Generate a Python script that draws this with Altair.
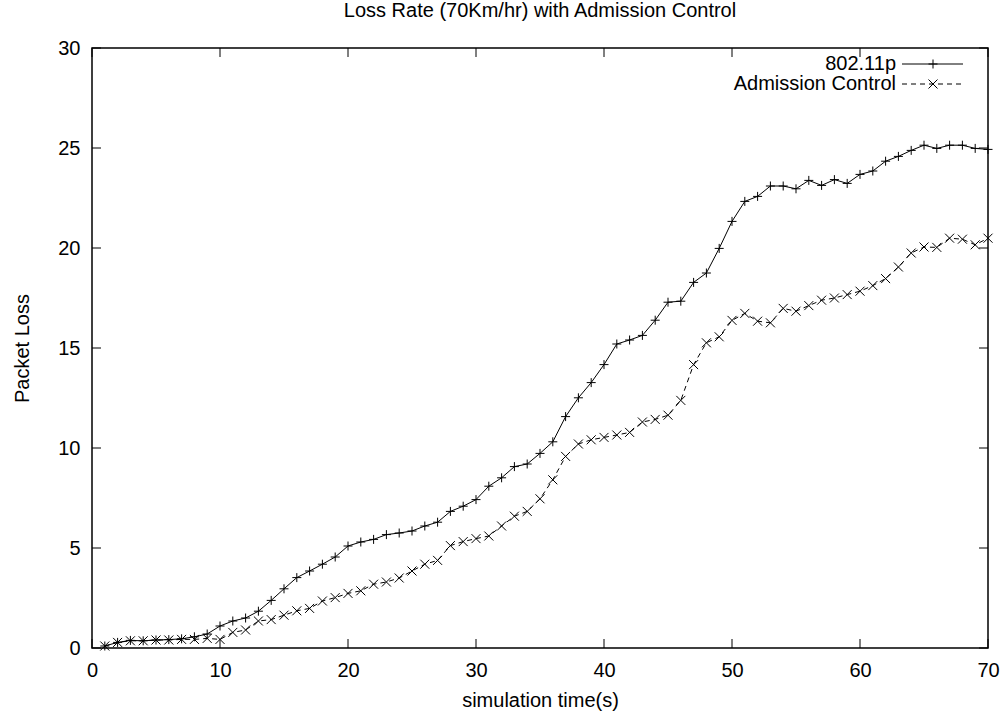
import altair as alt
import pandas as pd

# ---- data ----
time_s = list(range(1, 71))
loss_80211p = [
    0.10, 0.28, 0.38, 0.36, 0.40, 0.42, 0.46, 0.56, 0.70, 1.10,
    1.35, 1.50, 1.84, 2.38, 2.96, 3.52, 3.85, 4.19, 4.55, 5.10,
    5.30, 5.43, 5.67, 5.75, 5.85, 6.10, 6.29, 6.83, 7.09, 7.42,
    8.09, 8.51, 9.07, 9.20, 9.73, 10.31, 11.57, 12.51, 13.27, 14.17,
    15.20, 15.40, 15.63, 16.39, 17.29, 17.34, 18.28, 18.75, 19.98, 21.33,
    22.33, 22.58, 23.10, 23.10, 22.96, 23.38, 23.13, 23.42, 23.23, 23.68,
    23.85, 24.34, 24.58, 24.88, 25.14, 24.98, 25.14, 25.14, 24.98, 24.93,
]
loss_admission = [
    0.10, 0.28, 0.36, 0.36, 0.40, 0.40, 0.43, 0.43, 0.48, 0.43,
    0.78, 0.90, 1.35, 1.42, 1.64, 1.86, 1.98, 2.35, 2.52, 2.73,
    2.86, 3.19, 3.30, 3.50, 3.85, 4.19, 4.38, 5.12, 5.32, 5.47,
    5.60, 6.10, 6.59, 6.83, 7.46, 8.41, 9.58, 10.20, 10.41, 10.53,
    10.65, 10.78, 11.30, 11.43, 11.64, 12.38, 14.17, 15.26, 15.56, 16.38,
    16.73, 16.34, 16.26, 16.98, 16.84, 17.12, 17.39, 17.50, 17.67, 17.84,
    18.12, 18.47, 19.05, 19.75, 20.05, 20.03, 20.49, 20.44, 20.16, 20.49,
]
x_ticks = [0, 10, 20, 30, 40, 50, 60, 70]
y_ticks = [0, 5, 10, 15, 20, 25, 30]
series_names = ["802.11p", "Admission Control"]
chart_title = "Loss Rate (70Km/hr) with Admission Control"
x_title = "simulation time(s)"
y_title = "Packet Loss"

# ---- styling ----
FONT = "Liberation Sans"
FS = 20
W, H = 896, 600
TICK = 9
PLUS = "M-1,0L1,0M0,-1L0,1"
CROSS = "M-1,-1L1,1M-1,1L1,-1"

df1 = pd.DataFrame({"t": time_s, "loss": loss_80211p})
df2 = pd.DataFrame({"t": time_s, "loss": loss_admission})
xt = pd.DataFrame({"v": x_ticks})
yt = pd.DataFrame({"v": y_ticks})

xs = alt.Scale(domain=[0, 70], nice=False, zero=False)
ys = alt.Scale(domain=[0, 30], nice=False, zero=False)

xaxis = alt.Axis(values=x_ticks, title=x_title, grid=False, domain=False,
                 ticks=False, tickSize=0, labelPadding=12, labelFontSize=FS,
                 labelFont=FONT, labelColor="black", labelFlush=False,
                 labelOverlap=False, titleFont=FONT, titleFontSize=FS,
                 titleFontWeight="normal", titleColor="black", titlePadding=10)
yaxis = alt.Axis(values=y_ticks, title=y_title, grid=False, domain=False,
                 ticks=False, tickSize=0, labelPadding=12, labelFontSize=FS,
                 labelFont=FONT, labelColor="black", labelFlush=False,
                 labelOverlap=False, titleFont=FONT, titleFontSize=FS,
                 titleFontWeight="normal", titleColor="black", titlePadding=25)

X = alt.X("t:Q", scale=xs, axis=xaxis)
Y = alt.Y("loss:Q", scale=ys, axis=yaxis)

line1 = alt.Chart(df1).mark_line(color="black", strokeWidth=1).encode(x=X, y=Y)
pts1 = alt.Chart(df1).mark_point(shape=PLUS, size=81, color="black",
                                 strokeWidth=1, filled=False, opacity=1).encode(x=X, y=Y)
line2 = alt.Chart(df2).mark_line(color="black", strokeWidth=1,
                                 strokeDash=[5, 4]).encode(x=X, y=Y)
pts2 = alt.Chart(df2).mark_point(shape=CROSS, size=81, color="black",
                                 strokeWidth=1, filled=False, opacity=1).encode(x=X, y=Y)

XT = alt.X("v:Q", scale=xs, axis=xaxis)
YT = alt.Y("v:Q", scale=ys, axis=yaxis)
xtick_bottom = alt.Chart(xt).mark_rule(color="black", strokeWidth=1).encode(
    x=XT, y=alt.value(H), y2=alt.value(H - TICK))
xtick_top = alt.Chart(xt).mark_rule(color="black", strokeWidth=1).encode(
    x=XT, y=alt.value(0), y2=alt.value(TICK))
ytick_left = alt.Chart(yt).mark_rule(color="black", strokeWidth=1).encode(
    y=YT, x=alt.value(0), x2=alt.value(TICK))
ytick_right = alt.Chart(yt).mark_rule(color="black", strokeWidth=1).encode(
    y=YT, x=alt.value(W), x2=alt.value(W - TICK))

# ---- key (top-right, inside the frame) ----
LX_TEXT, LX0, LX1, LXM = 804, 810, 871, 841
LY1, LY2 = 16, 36
k1 = pd.DataFrame({"label": [series_names[0]]})
k2 = pd.DataFrame({"label": [series_names[1]]})
key_text1 = alt.Chart(k1).mark_text(align="right", baseline="middle", font=FONT,
                                    fontSize=FS, color="black").encode(
    x=alt.value(LX_TEXT), y=alt.value(LY1), text="label:N")
key_text2 = alt.Chart(k2).mark_text(align="right", baseline="middle", font=FONT,
                                    fontSize=FS, color="black").encode(
    x=alt.value(LX_TEXT), y=alt.value(LY2), text="label:N")
key_line1 = alt.Chart(k1).mark_rule(color="black", strokeWidth=1).encode(
    x=alt.value(LX0), x2=alt.value(LX1), y=alt.value(LY1))
key_line2 = alt.Chart(k2).mark_rule(color="black", strokeWidth=1, strokeDash=[5, 4]).encode(
    x=alt.value(LX0), x2=alt.value(LX1), y=alt.value(LY2))
key_pt1 = alt.Chart(k1).mark_point(shape=PLUS, size=81, color="black", strokeWidth=1,
                                   filled=False, opacity=1).encode(
    x=alt.value(LXM), y=alt.value(LY1))
key_pt2 = alt.Chart(k2).mark_point(shape=CROSS, size=81, color="black", strokeWidth=1,
                                   filled=False, opacity=1).encode(
    x=alt.value(LXM), y=alt.value(LY2))

chart = alt.layer(
    line1, pts1, line2, pts2,
    xtick_bottom, xtick_top, ytick_left, ytick_right,
    key_text1, key_text2, key_line1, key_line2, key_pt1, key_pt2,
).properties(
    width=W, height=H,
    title=alt.TitleParams(chart_title, font=FONT, fontSize=FS, fontWeight="normal",
                          color="black", anchor="middle", frame="group", offset=17),
    autosize=alt.AutoSizeParams(type="none"),
    padding={"left": 92, "top": 48, "right": 17, "bottom": 65},
    background="white",
).configure_view(stroke="black", strokeWidth=1.5)

chart.save("out.html", embed_options={"renderer": "svg", "actions": False})
